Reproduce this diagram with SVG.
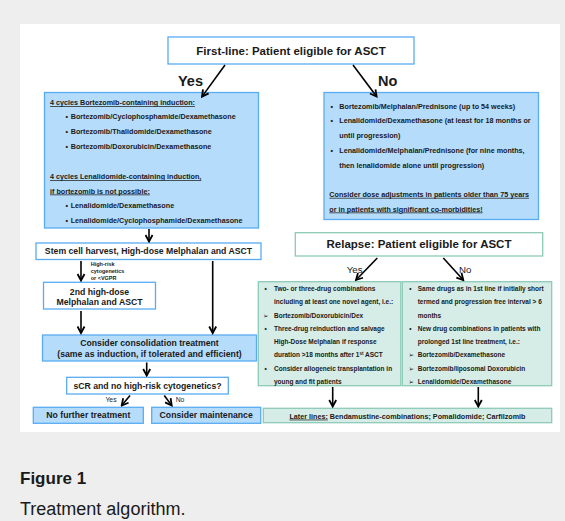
<svg xmlns="http://www.w3.org/2000/svg" width="565" height="521" viewBox="0 0 565 521">
<defs>
<marker id="ah" markerUnits="userSpaceOnUse" markerWidth="9" markerHeight="9" viewBox="0 0 9 9" refX="7.5" refY="4.5" orient="auto">
<path d="M1,1 L7.5,4.5 L1,8" fill="none" stroke="#000" stroke-width="1.8"/>
</marker>
<style>
text{font-family:"Liberation Sans",Arial,"DejaVu Sans",sans-serif;fill:#1a1a1a}
.b{font-weight:bold}
.blueW{fill:#fff;stroke:#5aacf2;stroke-width:1.3}
.blueF{fill:#b5dcfb;stroke:#5aacf2;stroke-width:1.3}
.tealW{fill:#fff;stroke:#8ccab6;stroke-width:1.3}
.tealF{fill:#d6ece6;stroke:#8ccab6;stroke-width:1.3}
.m{font-size:8.7px;font-weight:bold;text-anchor:middle}
.h{font-size:11.5px;font-weight:bold;text-anchor:middle}
.s7{font-size:7.2px;font-weight:bold}
.s65{font-size:6.5px;font-weight:bold}
.u{text-decoration:underline}
.c line{stroke:#000;stroke-width:1.6;marker-end:url(#ah)}
</style>
</defs>
<rect x="0" y="0" width="565" height="521" fill="#eeeeee"/>
<rect x="20" y="24" width="540" height="408" fill="#ffffff"/>

<g id="first-line">
<rect class="blueW" x="168" y="37" width="246" height="27"/>
<text class="h" x="291" y="54.5">First-line: Patient eligible for ASCT</text>
</g>
<text class="b" x="178" y="86" font-size="14.5px">Yes</text>
<text class="b" x="378" y="86" font-size="14.5px">No</text>

<g id="induction">
<rect class="blueF" x="44.5" y="92.5" width="214" height="135.5"/>
<text class="s7 u" x="50" y="105">4 cycles Bortezomib-containing induction:</text>
<text class="s7" x="65.5" y="119">•</text><text class="s7" x="70.7" y="119">Bortezomib/Cyclophosphamide/Dexamethasone</text>
<text class="s7" x="65.5" y="134">•</text><text class="s7" x="70.7" y="134">Bortezomib/Thalidomide/Dexamethasone</text>
<text class="s7" x="65.5" y="149">•</text><text class="s7" x="70.7" y="149">Bortezomib/Doxorubicin/Dexamethasone</text>
<text class="s7 u" x="50" y="179">4 cycles Lenalidomide-containing induction,</text>
<text class="s7 u" x="50" y="193.5">if bortezomib is not possible:</text>
<text class="s7" x="65.5" y="208">•</text><text class="s7" x="70.7" y="208">Lenalidomide/Dexamethasone</text>
<text class="s7" x="65.5" y="222.5">•</text><text class="s7" x="70.7" y="222.5">Lenalidomide/Cyclophosphamide/Dexamethasone</text>
</g>

<g id="no-asct">
<rect class="blueF" x="324" y="92.5" width="214.5" height="127"/>
<text class="s7" x="330.5" y="108.5">•</text><text class="s7" x="339.3" y="108.5">Bortezomib/Melphalan/Prednisone (up to 54 weeks)</text>
<text class="s7" x="330.5" y="123">•</text><text class="s7" x="339.3" y="123">Lenalidomide/Dexamethasone (at least for 18 months or</text>
<text class="s7" x="339.3" y="137.8">until progression)</text>
<text class="s7" x="330.5" y="153">•</text><text class="s7" x="339.3" y="153">Lenalidomide/Melphalan/Prednisone (for nine months,</text>
<text class="s7" x="339.3" y="167.5">then lenalidomide alone until progression)</text>
<text class="s7 u" x="329.3" y="196.8">Consider dose adjustments in patients older than 75 years</text>
<text class="s7 u" x="329.3" y="211.5">or in patients with significant co-morbidities!</text>
</g>

<g id="stem-cell">
<rect class="blueW" x="36" y="243" width="225" height="16.5"/>
<text class="m" x="148.5" y="254.4">Stem cell harvest, High-dose Melphalan and ASCT</text>
</g>
<text class="b" x="90.7" y="266" font-size="5.5px" fill="#333">High-risk</text>
<text class="b" x="90.7" y="273" font-size="5.5px" fill="#333">cytogenetics</text>
<text class="b" x="90.7" y="280" font-size="5.5px" fill="#333">or &lt;VGPR</text>

<g id="second-asct">
<rect class="blueW" x="43.5" y="282.3" width="112" height="26.7"/>
<text class="m" x="99.5" y="294.7">2nd high-dose</text>
<text class="m" x="99.5" y="304.9">Melphalan and ASCT</text>
</g>

<g id="consolidation">
<rect class="blueF" x="42.5" y="335" width="214" height="26"/>
<text class="m" x="149.5" y="346.4">Consider consolidation treatment</text>
<text class="m" x="149.5" y="356.6">(same as induction, if tolerated and efficient)</text>
</g>

<g id="scr">
<rect class="blueW" x="66.7" y="377.3" width="161.6" height="16.7"/>
<text class="m" x="147.5" y="388.8">sCR and no high-risk cytogenetics?</text>
</g>
<text x="111" y="402.3" font-size="6.8px" text-anchor="middle" fill="#333">Yes</text>
<text x="180" y="402.3" font-size="6.8px" text-anchor="middle" fill="#333">No</text>

<g id="no-further">
<rect class="blueF" x="33.3" y="407.3" width="110" height="16"/>
<text class="m" x="88.3" y="418.4">No further treatment</text>
</g>
<g id="maintenance">
<rect class="blueF" x="151.7" y="407.3" width="109" height="16"/>
<text class="m" x="206.2" y="418.4">Consider maintenance</text>
</g>

<g id="relapse">
<rect class="tealW" x="295.3" y="232.7" width="247.4" height="23.3"/>
<text class="h" x="419" y="248.3">Relapse: Patient eligible for ASCT</text>
</g>
<text x="346.7" y="272.5" font-size="9.7px" fill="#222">Yes</text>
<text x="459" y="272.5" font-size="9.7px" fill="#222">No</text>

<g id="relapse-yes">
<rect class="tealF" x="258.3" y="281.7" width="142.5" height="104"/>
<text class="s65" x="264.5" y="291.3">•</text><text class="s65" x="274" y="291.3">Two- or three-drug combinations</text>
<text class="s65" x="274" y="304.3">including at least one novel agent, i.e.:</text>
<text class="s65" x="263" y="317.6">➢</text><text class="s65" x="274" y="317.6">Bortezomib/Doxorubicin/Dex</text>
<text class="s65" x="264.5" y="331">•</text><text class="s65" x="274" y="331">Three-drug reinduction and salvage</text>
<text class="s65" x="274" y="344.3">High-Dose Melphalan if response</text>
<text class="s65" x="274" y="357.3">duration &gt;18 months after 1<tspan font-size="4.5px" baseline-shift="super">st</tspan> ASCT</text>
<text class="s65" x="264.5" y="371">•</text><text class="s65" x="274" y="371">Consider allogeneic transplantation in</text>
<text class="s65" x="274" y="384.3">young and fit patients</text>
</g>

<g id="relapse-no">
<rect class="tealF" x="402.3" y="281.7" width="149.4" height="104"/>
<text class="s65" x="409.3" y="291.3">•</text><text class="s65" x="417.7" y="291.3">Same drugs as in 1st line if initially short</text>
<text class="s65" x="417.7" y="304.3">termed and progression free interval &gt; 6</text>
<text class="s65" x="417.7" y="317.6">months</text>
<text class="s65" x="409.3" y="331">•</text><text class="s65" x="417.7" y="331">New drug combinations in patients with</text>
<text class="s65" x="417.7" y="344.3">prolonged 1st line treatment, i.e.:</text>
<text class="s65" x="408.5" y="357.3">➢</text><text class="s65" x="417.7" y="357.3">Bortezomib/Dexamethasone</text>
<text class="s65" x="408.5" y="371">➢</text><text class="s65" x="417.7" y="371">Bortezomib/liposomal Doxorubicin</text>
<text class="s65" x="408.5" y="384.3">➢</text><text class="s65" x="417.7" y="384.3">Lenalidomide/Dexamethasone</text>
</g>

<g id="later-lines">
<rect class="tealF" x="263.3" y="408.3" width="288.4" height="14.4"/>
<text class="s7" x="407.5" y="418.6" text-anchor="middle"><tspan class="u">Later lines:</tspan> Bendamustine-combinations; Pomalidomide; Carfilzomib</text>
</g>

<g id="connectors" class="c">
<line x1="225" y1="65" x2="202" y2="96.6"/>
<line x1="353" y1="65" x2="376.6" y2="96.6"/>
<line x1="149" y1="229" x2="149" y2="241.5"/>
<line x1="81" y1="261" x2="81" y2="280.5"/>
<line x1="212.7" y1="261" x2="212.7" y2="333"/>
<line x1="81" y1="311" x2="81" y2="333"/>
<line x1="146.7" y1="362.5" x2="146.7" y2="375.5"/>
<line x1="130" y1="395.5" x2="121.7" y2="405.5"/>
<line x1="164.3" y1="395.5" x2="171.7" y2="405.5"/>
<line x1="377.3" y1="258" x2="356" y2="280"/>
<line x1="443.3" y1="258" x2="463.3" y2="280"/>
<line x1="332.7" y1="387" x2="332.7" y2="406.5"/>
<line x1="478.3" y1="387" x2="478.3" y2="406.5"/>
</g>

<text class="b" x="20" y="484" font-size="17px" fill="#222">Figure 1</text>
<text x="20" y="515" font-size="18px" fill="#333">Treatment algorithm.</text>
</svg>
